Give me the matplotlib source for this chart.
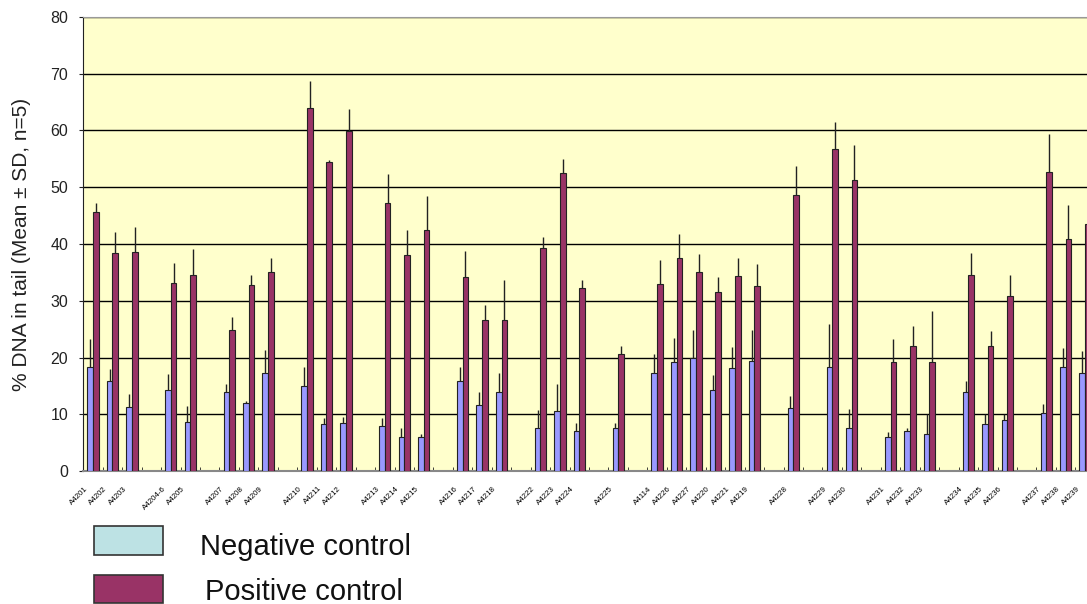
import numpy as np
import matplotlib
matplotlib.use('Agg')
import matplotlib.pyplot as plt
from matplotlib.patches import Rectangle
from matplotlib.transforms import ScaledTranslation

plt.rcParams['font.family'] = ['Liberation Sans', 'DejaVu Sans']

# one entry per category slot, '' = empty spacer slot
labels = ['A4201', 'A4202', 'A4203', '', 'A4204-6', 'A4205', '', 'A4207', 'A4208', 'A4209', '',
          'A4210', 'A4211', 'A4212', '', 'A4213', 'A4214', 'A4215', '', 'A4216', 'A4217', 'A4218', '',
          'A4222', 'A4223', 'A4224', '', 'A4225', '', 'A4114', 'A4226', 'A4227', 'A4220', 'A4221', 'A4219', '',
          'A4228', '', 'A4229', 'A4230', '', 'A4231', 'A4232', 'A4233', '', 'A4234', 'A4235', 'A4236', '',
          'A4237', 'A4238', 'A4239']
nan = np.nan
neg_mean = [18.4, 15.8, 11.2, nan, 14.3, 8.6, nan, 13.9, 12.0, 17.3, nan,
            15.0, 8.2, 8.4, nan, 8.0, 6.0, 6.0, nan, 15.8, 11.7, 13.9, nan,
            7.5, 10.6, 7.0, nan, 7.5, nan, 17.3, 19.2, 20.0, 14.3, 18.1, 19.4, nan,
            11.1, nan, 18.4, 7.5, nan, 6.0, 7.0, 6.6, nan, 13.9, 8.3, 9.0, nan,
            10.3, 18.4, 17.3]
neg_sd = [4.9, 2.2, 2.3, nan, 2.8, 2.8, nan, 1.5, 0.4, 4.1, nan,
          3.4, 1.1, 1.1, nan, 1.3, 1.6, 0.5, nan, 2.6, 2.2, 3.4, nan,
          3.2, 4.8, 1.4, nan, 1.0, nan, 3.4, 4.3, 4.8, 2.6, 3.8, 5.4, nan,
          2.2, nan, 7.5, 3.5, nan, 0.9, 0.5, 3.4, nan, 1.9, 1.7, 1.0, nan,
          1.5, 3.2, 3.9]
pos_mean = [45.7, 38.4, 38.6, nan, 33.1, 34.6, nan, 24.8, 32.7, 35.0, nan,
            64.0, 54.4, 59.9, nan, 47.2, 38.1, 42.5, nan, 34.2, 26.6, 26.6, nan,
            39.3, 52.5, 32.2, nan, 20.7, nan, 33.0, 37.6, 35.0, 31.6, 34.3, 32.6, nan,
            48.6, nan, 56.7, 51.3, nan, 19.2, 22.1, 19.2, nan, 34.6, 22.1, 30.9, nan,
            52.7, 40.8, 43.6]
pos_sd = [1.5, 3.7, 4.4, nan, 3.6, 4.5, nan, 2.4, 1.9, 2.6, nan,
          4.8, 0.4, 3.9, nan, 5.1, 4.4, 6.0, nan, 4.5, 2.7, 7.0, nan,
          2.0, 2.5, 1.4, nan, 1.4, nan, 4.2, 4.1, 3.3, 2.6, 3.3, 3.9, nan,
          5.2, nan, 4.8, 6.1, nan, 4.1, 3.5, 9.0, nan, 3.8, 2.5, 3.7, nan,
          6.7, 6.0, 3.0]

x = np.arange(len(labels))
neg_mean = np.array(neg_mean)
pos_mean = np.array(pos_mean)
neg_sd = np.array(neg_sd)
pos_sd = np.array(pos_sd)
zeros = np.zeros(len(x))

fig = plt.figure(figsize=(10.87, 6.04), dpi=100)
ax = fig.add_axes([83.3 / 1087, 133 / 604, 1 - 83.3 / 1087, 454 / 604])
ax.set_facecolor('#ffffcc')

w = 0.29
ax.bar(x - w / 2, neg_mean, w, color='#9999ff', edgecolor='#222222', linewidth=0.8, zorder=3)
ax.bar(x + w / 2, pos_mean, w, color='#993366', edgecolor='#222222', linewidth=0.8, zorder=3)
ax.errorbar(x - w / 2, neg_mean, yerr=[zeros, neg_sd], fmt='none', ecolor='#222222', elinewidth=1, capsize=0, zorder=4)
ax.errorbar(x + w / 2, pos_mean, yerr=[zeros, pos_sd], fmt='none', ecolor='#222222', elinewidth=1, capsize=0, zorder=4)

ax.set_ylim(0, 80)
ax.set_xlim(-0.5, 51.1)
ax.set_yticks(range(0, 81, 10))
ax.yaxis.grid(True, color='black', linewidth=1)
ax.set_axisbelow(True)
ax.tick_params(axis='y', length=3, pad=8, labelsize=11.5, colors='#222222')
ax.set_ylabel('% DNA in tail (Mean ± SD, n=5)', fontsize=15, color='#222222', labelpad=14)

ax.set_xticks(x)
ax.set_xticklabels(labels, rotation=45, ha='right', va='center', rotation_mode='anchor', fontsize=5.7)
ax.set_xticks(np.arange(0.5, 51, 1), minor=True)
ax.tick_params(axis='x', which='major', length=0, pad=12)
ax.tick_params(axis='x', which='minor', direction='in', length=3, color='#222222')
off = ScaledTranslation(-6 / 100, 0, fig.dpi_scale_trans)
for t in ax.get_xticklabels():
    t.set_transform(t.get_transform() + off)

ax.spines['right'].set_visible(False)
ax.spines['top'].set_color('#999999')
ax.spines['bottom'].set_color('#888888')
ax.spines['bottom'].set_linewidth(1.5)
ax.spines['left'].set_color('#222222')

# legend drawn below the axes
fig.patches.append(Rectangle((94 / 1087, 49 / 604), 69 / 1087, 29 / 604, transform=fig.transFigure,
                             facecolor='#bde2e4', edgecolor='#333333', linewidth=1.2))
fig.patches.append(Rectangle((94 / 1087, 1.5 / 604), 69 / 1087, 28 / 604, transform=fig.transFigure,
                             facecolor='#993366', edgecolor='#333333', linewidth=1.2))
fig.text(200 / 1087, 49 / 604, 'Negative control', fontsize=21, va='baseline', color='#111111')
fig.text(205 / 1087, 4 / 604, 'Positive control', fontsize=21, va='baseline', color='#111111')

fig.savefig('out.png', dpi=100)
